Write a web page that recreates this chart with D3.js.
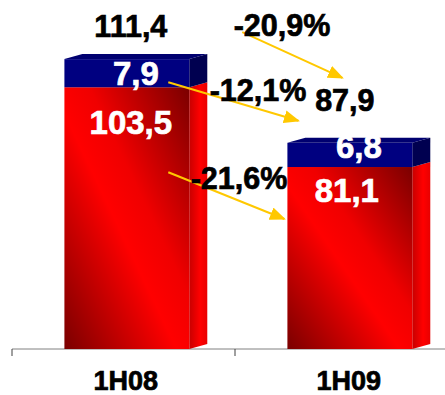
<html>
  <head>
    <style>
      body { margin: 0; background: #fff; }
      text { font-family: "Liberation Sans", Arial, sans-serif; font-weight: bold; }
    </style>
    <script src="https://cdn.jsdelivr.net/npm/d3@7"></script>
  </head>
  <body>
    <svg id="container" height="395" width="445"></svg>
  </body>
  <script>
    const categories = ["1H08", "1H09"];
    const redValues = [103.5, 81.1];
    const blueValues = [7.9, 6.8];
    const totals = [111.4, 87.9];
    const redLabels = ["103,5", "81,1"];
    const blueLabels = ["7,9", "6,8"];
    const totalLabels = ["111,4", "87,9"];
    const changeLabels = ["-20,9%", "-12,1%", "-21,6%"];

    const svg = d3.select("#container");
    const defs = svg.append("defs");

    // front face: dark corners bottom-left / top-right, bright diagonal band
    const gFront = defs.append("linearGradient").attr("id", "redFront")
      .attr("x1", 0).attr("y1", 1).attr("x2", 1).attr("y2", 0);
    gFront.append("stop").attr("offset", 0).attr("stop-color", "#7a0000");
    gFront.append("stop").attr("offset", 0.45).attr("stop-color", "#ff0000");
    gFront.append("stop").attr("offset", 0.6).attr("stop-color", "#f00000");
    gFront.append("stop").attr("offset", 1).attr("stop-color", "#7a0000");

    const gSide = defs.append("linearGradient").attr("id", "redSide")
      .attr("x1", 0).attr("y1", 0).attr("x2", 1).attr("y2", 0);
    gSide.append("stop").attr("offset", 0).attr("stop-color", "#c80000");
    gSide.append("stop").attr("offset", 0.6).attr("stop-color", "#ff0000");
    gSide.append("stop").attr("offset", 1).attr("stop-color", "#e80000");

    defs.append("marker").attr("id", "head")
      .attr("viewBox", "0 0 10 10").attr("refX", 9).attr("refY", 5)
      .attr("markerWidth", 16).attr("markerHeight", 13)
      .attr("markerUnits", "userSpaceOnUse").attr("orient", "auto")
      .attr("preserveAspectRatio", "none")
      .append("path").attr("d", "M0,0L10,5L0,10Z").attr("fill", "#ffc800");

    const x = d3.scaleBand().domain(categories).range([12, 458]);
    const y = d3.scaleLinear().domain([30, 128]).range([349, 0]);

    const bw = x.bandwidth() * 0.56;
    const bx = c => x(c) + x.bandwidth() * 0.235;
    const dx = 18, dy = -5;

    // axis
    const axis = svg.append("g").attr("transform", "translate(0,349)");
    axis.append("line").attr("x1", 12).attr("x2", 445).attr("stroke", "#808080");
    categories.forEach(c => {
      axis.append("line").attr("x1", x(c)).attr("x2", x(c)).attr("y1", 0).attr("y2", 7)
        .attr("stroke", "#404040");
    });

    const bold = sel => sel.attr("stroke", sel.attr("fill")).attr("stroke-width", 0.7);

    const bars = svg.append("g");
    categories.forEach((c, i) => {
      const x0 = bx(c), x1 = x0 + bw;
      const yBase = y(30), yRed = y(redValues[i]), yTop = y(totals[i]);
      // red side
      bars.append("path")
        .attr("d", `M${x1},${yBase}L${x1 + dx},${yBase + dy}L${x1 + dx},${yRed + dy}L${x1},${yRed}Z`)
        .attr("fill", "url(#redSide)");
      // red front
      bars.append("rect").attr("x", x0).attr("y", yRed).attr("width", bw).attr("height", yBase - yRed)
        .attr("fill", "url(#redFront)");
      // blue side
      bars.append("path")
        .attr("d", `M${x1},${yRed}L${x1 + dx},${yRed + dy}L${x1 + dx},${yTop + dy}L${x1},${yTop}Z`)
        .attr("fill", "#000050");
      // blue front
      bars.append("rect").attr("x", x0).attr("y", yTop).attr("width", bw).attr("height", yRed - yTop)
        .attr("fill", "#000080");
      // blue top
      bars.append("path")
        .attr("d", `M${x0},${yTop}L${x0 + dx},${yTop + dy}L${x1 + dx},${yTop + dy}L${x1},${yTop}Z`)
        .attr("fill", "#000070");

      const cx = x0 + bw / 2;
      bars.append("text").attr("x", cx + 9).attr("y", yRed - (i === 0 ? 2 : 9))
        .attr("text-anchor", "middle").attr("font-size", 33).attr("fill", "#fff")
        .text(blueLabels[i]).call(bold);
      bars.append("text").attr("x", cx + (i === 0 ? 4 : -3)).attr("y", yRed + (i === 0 ? 47 : 35))
        .attr("text-anchor", "middle").attr("font-size", 33).attr("fill", "#fff")
        .text(redLabels[i]).call(bold);
      bars.append("text").attr("x", cx + (i === 0 ? 4 : -5)).attr("y", yTop - (i === 0 ? 22 : 32))
        .attr("text-anchor", "middle").attr("font-size", 30.5).attr("fill", "#000")
        .text(totalLabels[i]).call(bold);
      svg.append("text").attr("x", cx - 1).attr("y", 390)
        .attr("text-anchor", "middle").attr("font-size", 27).attr("fill", "#000")
        .text(c).call(bold);
    });

    // change arrows: total, blue, red
    const c0 = bx(categories[0]), c1 = bx(categories[1]);
    const arrows = [
      { x1: c0 + bw + 53, y1: y(totals[0]) - 27, x2: c1 + 55, y2: y(totals[1]) - 65, lx: 282, ly: 36 },
      { x1: c0 + bw - 21, y1: y(redValues[0]) - 5, x2: c1 + 11, y2: y(totals[1]) - 22, lx: 258, ly: 101 },
      { x1: c0 + bw - 21, y1: y(redValues[0]) + 85, x2: c1 - 3, y2: y(redValues[1]) + 52, lx: 239, ly: 189 }
    ];
    arrows.forEach((a, i) => {
      svg.append("line").attr("x1", a.x1).attr("y1", a.y1).attr("x2", a.x2).attr("y2", a.y2)
        .attr("stroke", "#ffc800").attr("stroke-width", 2).attr("marker-end", "url(#head)");
      svg.append("text").attr("x", a.lx).attr("y", a.ly).attr("text-anchor", "middle")
        .attr("font-size", 30.5).attr("fill", "#000").text(changeLabels[i]).call(bold);
    });
  </script>
</html>
